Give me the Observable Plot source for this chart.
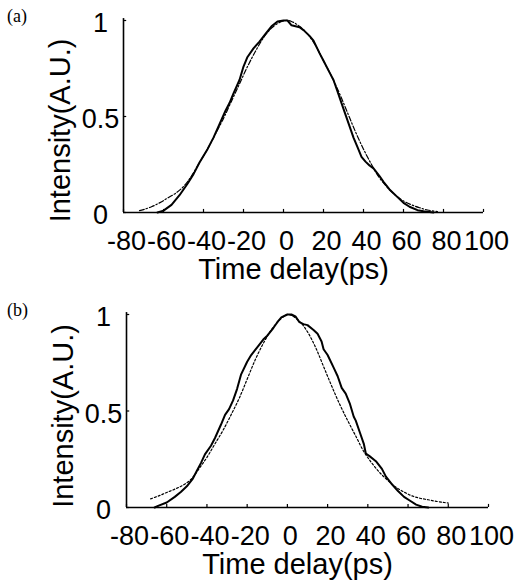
<!DOCTYPE html>
<html><head><meta charset="utf-8">
<script src="https://cdn.jsdelivr.net/npm/d3@7"></script>
<script src="https://cdn.jsdelivr.net/npm/@observablehq/plot@0.6"></script>
<style>
body{margin:0;background:#fff;width:527px;height:584px;overflow:hidden}
.panel{position:relative;width:527px;height:292px}
.tag{position:absolute;font-family:"Liberation Serif","DejaVu Serif",serif;font-size:18px;line-height:1;color:#000}
svg{display:block}
</style></head><body>
<div id="pa" class="panel"><div class="tag" style="left:7px;top:7px">(a)</div></div>
<div id="pb" class="panel"><div class="tag" style="left:7px;top:9px">(b)</div></div>
<script>
const xTicks = [-80,-60,-40,-20,0,20,40,60,80,100];
const yTicks = [0,0.5,1];
const yTickLabels = ["0","0.5","1"];
const xLabel = "Time delay(ps)";
const yLabel = "Intensity(A.U.)";

// Panel (a): measured (solid)
const aMeasT = [-63,-60,-56,-52,-48,-45,-42,-38,-35,-32,-29,-27,-25,-22,-20,-18,-15,-12,-9,-6,-3,0,2,4,6,8,10,13,15,18,20,23,25,27,29,31,33,35,37,39,41,43,45,48,50,53,57,60,63,67,70,75];
const aMeasI = [0,0.01,0.04,0.09,0.15,0.2,0.26,0.33,0.39,0.46,0.53,0.57,0.62,0.69,0.76,0.81,0.855,0.89,0.93,0.97,0.995,1.0,1.0,0.975,0.97,0.965,0.95,0.92,0.895,0.83,0.79,0.73,0.69,0.63,0.57,0.51,0.45,0.39,0.34,0.29,0.265,0.245,0.23,0.19,0.16,0.12,0.08,0.05,0.03,0.012,0.006,0];
// Panel (a): fit (dash-dot)
const aFitT = [-72,-70,-66,-62,-58,-54,-50,-46,-42,-38,-34,-30,-26,-22,-18,-14,-10,-6,-2,1,4,8,12,16,20,24,28,32,36,40,44,48,52,56,60,64,68,72,77];
const aFitI = [0.01,0.015,0.03,0.05,0.075,0.1,0.135,0.19,0.26,0.33,0.41,0.49,0.58,0.67,0.76,0.84,0.91,0.96,0.99,1.0,0.995,0.97,0.93,0.87,0.79,0.71,0.62,0.52,0.42,0.33,0.25,0.18,0.13,0.09,0.06,0.04,0.025,0.013,0.005];

// Panel (b): measured (solid)
const bMeasT = [-66,-64,-60,-56,-53,-50,-47,-45,-43,-41,-38,-36,-33,-31,-29,-27,-25,-23,-20,-18,-15,-12,-10,-7,-5,-3,0,2,4,6,8,10,13,15,17,18,20,23,25,27,29,31,33,34,36,38,39,41,44,47,49,52,55,58,61,64,67,70];
const bMeasI = [0,0.01,0.026,0.055,0.08,0.11,0.15,0.19,0.23,0.275,0.32,0.36,0.43,0.48,0.51,0.555,0.615,0.69,0.755,0.79,0.83,0.87,0.89,0.93,0.96,0.985,1.0,1.0,0.99,0.96,0.95,0.945,0.92,0.9,0.86,0.82,0.79,0.725,0.68,0.62,0.59,0.54,0.47,0.45,0.39,0.33,0.28,0.265,0.24,0.2,0.16,0.12,0.085,0.055,0.035,0.015,0.004,0];
// Panel (b): fit (dotted)
const bFitT = [-68,-64,-60,-56,-52,-48,-44,-40,-36,-32,-28,-24,-20,-16,-12,-8,-4,0,2,6,10,14,18,22,26,30,34,38,42,46,50,54,58,62,66,70,74,78,80];
const bFitI = [0.045,0.06,0.078,0.095,0.115,0.145,0.2,0.26,0.33,0.4,0.48,0.565,0.665,0.765,0.85,0.92,0.97,1.0,0.995,0.965,0.91,0.83,0.73,0.63,0.535,0.45,0.37,0.29,0.23,0.18,0.14,0.105,0.08,0.06,0.048,0.04,0.032,0.026,0.023];

const rows = (T, I) => T.map((t, i) => ({t, v: I[i]}));

function panel(p) {
  return Plot.plot({
    width: 527, height: 292,
    marginLeft: p.ml, marginRight: p.mr, marginTop: p.mt, marginBottom: p.mb,
    x: {domain: [-80, 100]},
    y: {domain: [0, 1]},
    style: {fontFamily: "'Liberation Sans', Arial, sans-serif", fontSize: "27px", color: "#000", background: "transparent", overflow: "visible"},
    marks: [
      Plot.ruleY([0], {x1: -80, x2: 100, stroke: "#000", strokeWidth: 1.6}),
      Plot.ruleX([-80], {y1: 0, y2: 1.01, stroke: "#000", strokeWidth: 1.6}),
      Plot.ruleX(xTicks, {x: d => d, y1: 0, y2: 0.016, stroke: "#000", strokeWidth: 1.2}),
      Plot.ruleY(yTicks, {y: d => d, x1: -80, x2: -78.4, stroke: "#000", strokeWidth: 1.2}),
      Plot.axisX({ticks: xTicks, tickSize: 0, tickPadding: 18, fontSize: 27, label: null, dx: 3, tickFormat: d => String(d)}),
      Plot.axisY({ticks: yTicks, tickSize: 0, tickPadding: 23, textAnchor: "middle", fontSize: 27, label: null, dy: 3,
                  tickFormat: d => yTickLabels[yTicks.indexOf(d)]}),
      Plot.text([xLabel], {frameAnchor: "bottom", lineAnchor: "top", textAnchor: "middle", dy: 46, dx: -10, fontSize: 29}),
      Plot.text([yLabel], {frameAnchor: "left", rotate: -90, textAnchor: "middle", lineAnchor: "middle", dx: -63, dy: p.ylDy, fontSize: 29}),
      Plot.line(p.fit, {x: "t", y: "v", curve: "catmull-rom", stroke: "#000", strokeWidth: 1.2, strokeDasharray: p.dash}),
      Plot.line(p.meas, {x: "t", y: "v", stroke: "#000", strokeWidth: 2})
    ]
  });
}

document.getElementById("pa").appendChild(panel({
  ml: 123, mr: 44, mt: 20, mb: 80, ylDy: 14,
  meas: rows(aMeasT, aMeasI), fit: rows(aFitT, aFitI), dash: "5,2,1.5,2"
}));
document.getElementById("pb").appendChild(panel({
  ml: 126, mr: 39, mt: 22, mb: 77, ylDy: 5,
  meas: rows(bMeasT, bMeasI), fit: rows(bFitT, bFitI), dash: "2,2"
}));
</script>
</body></html>
